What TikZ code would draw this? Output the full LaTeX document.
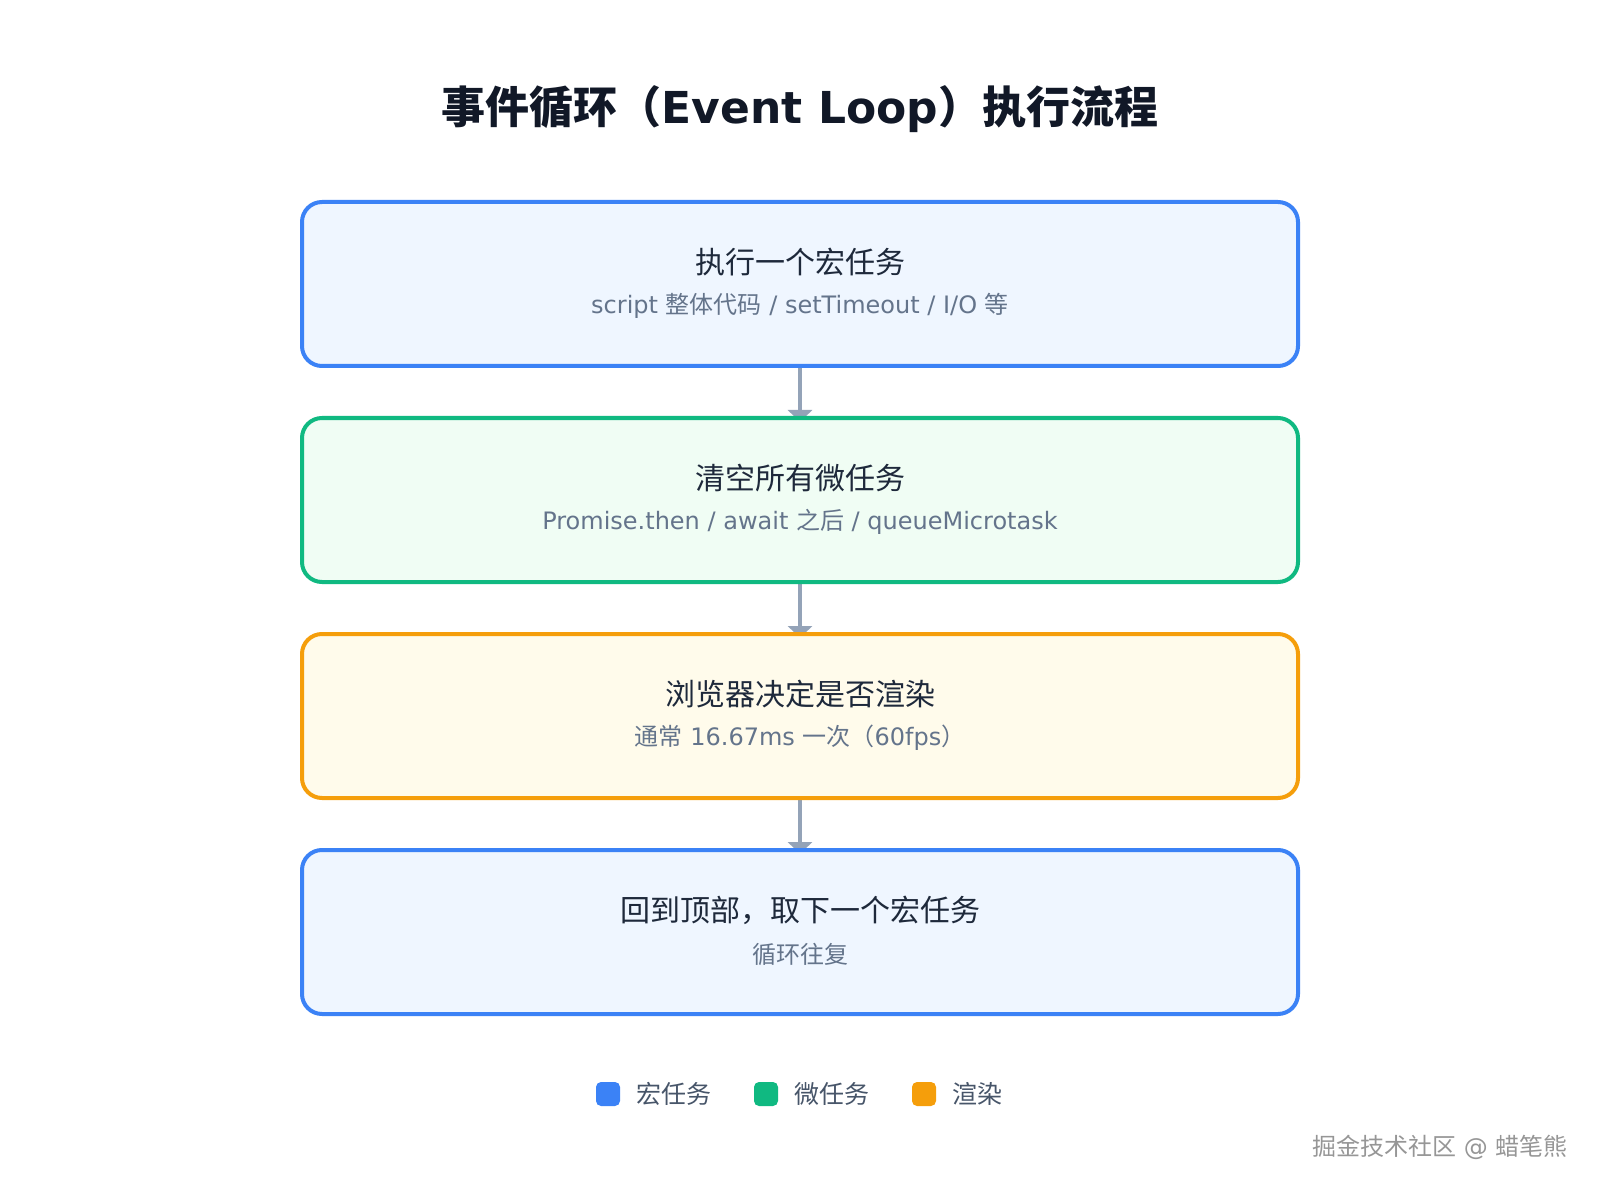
\documentclass[tikz,border=0pt]{standalone}
\usepackage{fontspec}
\setmainfont{DejaVu Sans}
\newfontfamily\cjk{Noto Sans CJK SC}
\usepackage{xcolor}
\usetikzlibrary{positioning,arrows.meta,backgrounds}
\definecolor{titleink}{RGB}{17,24,39}
\definecolor{inkdark}{RGB}{30,41,59}
\definecolor{subgrey}{RGB}{100,116,139}
\definecolor{leggrey}{RGB}{71,85,105}
\definecolor{arrowgrey}{RGB}{148,163,184}
\definecolor{macroblue}{RGB}{59,130,246}
\definecolor{macrofill}{RGB}{239,246,255}
\definecolor{microgreen}{RGB}{16,185,129}
\definecolor{microfill}{RGB}{240,253,244}
\definecolor{renderorange}{RGB}{245,158,11}
\definecolor{renderfill}{RGB}{255,251,235}
\definecolor{wmgrey}{RGB}{150,150,150}
\newcommand{\zh}[1]{{\cjk #1}}
\tikzset{
  stage/.style  ={draw=#1, line width=2pt, rounded corners=10pt, inner sep=0pt,
                  minimum width=498pt, minimum height=82pt},
  mainlbl/.style={font=\fontsize{15}{18}\selectfont\cjk, text=inkdark, inner sep=0pt},
  sublbl/.style ={font=\fontsize{12}{14}\selectfont, text=subgrey, inner sep=0pt},
  flow/.style   ={-{Triangle[length=6pt,width=12pt]}, draw=arrowgrey, line width=2pt},
  legsq/.style  ={fill=#1, rounded corners=2.5pt, minimum size=12pt, inner sep=0pt},
  legtxt/.style ={font=\fontsize{12.5}{15}\selectfont\cjk, text=leggrey, inner sep=0pt},
}
\begin{document}
\begin{tikzpicture}[x=0.5pt,y=-0.5pt]
\useasboundingbox (0,0) rectangle (1600,1192);
% ---------- title ----------
\node[font=\fontsize{22}{26}\selectfont\bfseries, text=titleink] (title) at (800,109)
  {\zh{事件循环（}Event Loop\zh{）执行流程}};

% ---------- stages ----------
\node[stage=macroblue, fill=macrofill] (box1) at (800,284) {};
\node[mainlbl] (main1) at ([yshift=11pt]box1.center) {执行一个宏任务};
\node[sublbl]  (sub1)  at ([yshift=-11pt]box1.center) {script \zh{整体代码} / setTimeout / I/O \zh{等}};

\node[stage=microgreen, fill=microfill] (box2) at (800,500) {};
\node[mainlbl] (main2) at ([yshift=11pt]box2.center) {清空所有微任务};
\node[sublbl]  (sub2)  at ([yshift=-11pt]box2.center) {Promise.then / await \zh{之后} / queueMicrotask};

\node[stage=renderorange, fill=renderfill] (box3) at (800,716) {};
\node[mainlbl] (main3) at ([yshift=11pt]box3.center) {浏览器决定是否渲染};
\node[sublbl]  (sub3)  at ([yshift=-11pt]box3.center) {\zh{通常} 16.67ms \zh{一次（}60fps\zh{）}};

\node[stage=macroblue, fill=macrofill] (box4) at (800,932) {};
\node[mainlbl] (main4) at ([yshift=11pt]box4.center) {回到顶部，取下一个宏任务};
\node[sublbl]  (sub4)  at ([yshift=-11pt]box4.center) {\zh{循环往复}};

% ---------- connectors (heads tucked under the next box) ----------
\begin{scope}[on background layer]
\foreach \a/\b in {box1/box2,box2/box3,box3/box4}{
  \draw[flow] (\a.south) -- ([yshift=-3pt]\b.north);
}
\end{scope}

% ---------- legend ----------
\foreach \n/\x/\col/\lab in {1/608/macroblue/宏任务, 2/766/microgreen/微任务, 3/924/renderorange/渲染}{
  \node[legsq=\col] (sq\n) at (\x,1094) {};
  \node[legtxt, right=8pt of sq\n] (leg\n) {\lab};
}

% ---------- watermark ----------
\node[font=\fontsize{12}{14}\selectfont, text=wmgrey, inner sep=0pt, anchor=east] (wm) at (1568,1147)
  {\zh{掘金技术社区} @ \zh{蜡笔熊}};
\end{tikzpicture}
\end{document}
